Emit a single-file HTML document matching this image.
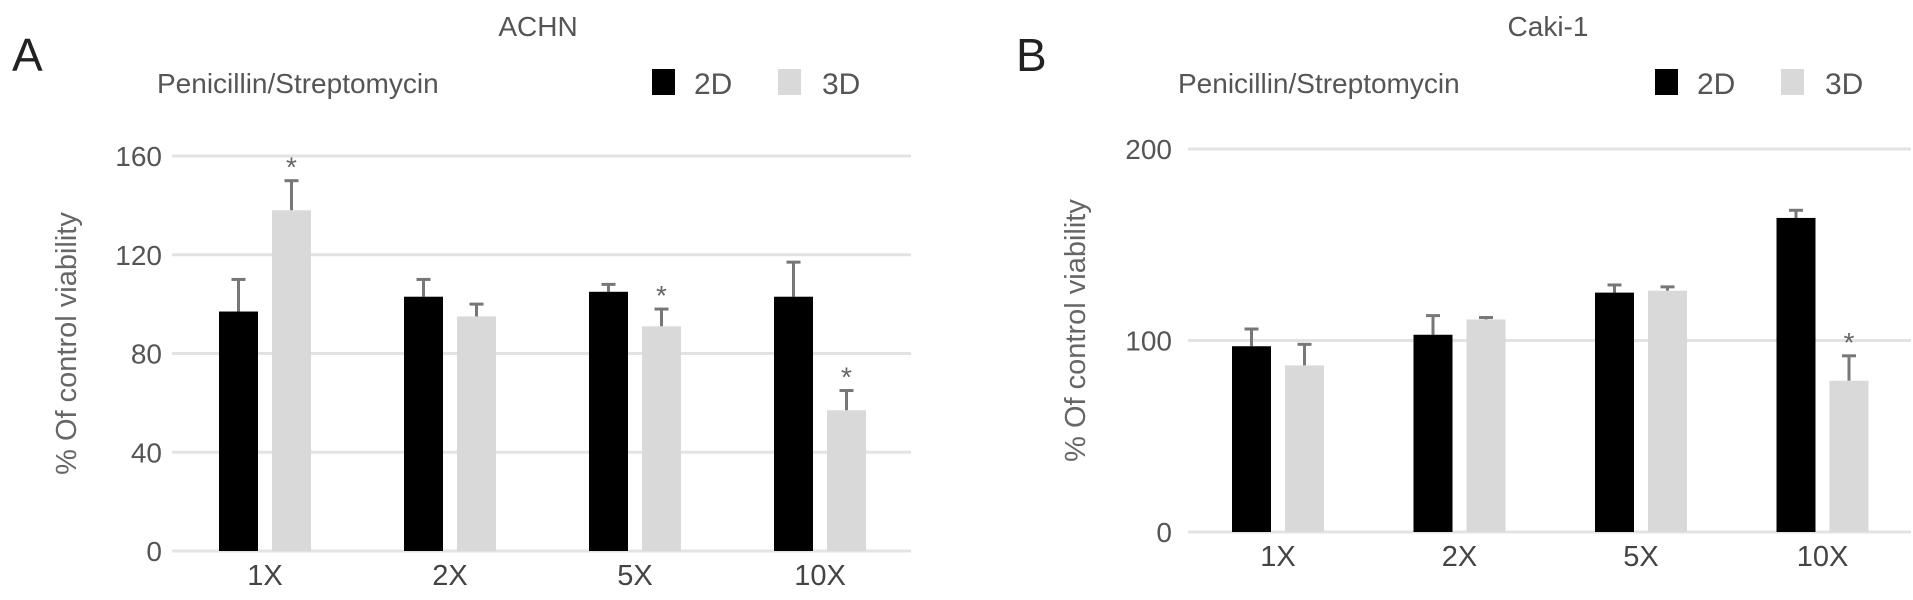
<!DOCTYPE html>
<html><head><meta charset="utf-8"><style>
html,body{margin:0;padding:0;background:#fff;}
svg{display:block;font-family:"Liberation Sans",sans-serif;}
</style></head><body>
<svg id="c" width="1913" height="600" viewBox="0 0 1913 600"></svg>
<script>
const categories = ["1X","2X","5X","10X"];
const achn2D = [97,103,105,103];
const achn2DErr = [110,110,108,117];
const achn3D = [138,95,91,57];
const achn3DErr = [150,100,98,65];
const achnStar = [true,false,true,true];
const achnTicks = [0,40,80,120,160];
const caki2D = [97,103,125,164];
const caki2DErr = [106,113,129,168];
const caki3D = [87,111,126,79];
const caki3DErr = [98,112,128,92];
const cakiStar = [false,false,false,true];
const cakiTicks = [0,100,200];

const NS="http://www.w3.org/2000/svg";
const svg=document.getElementById('c');
function mk(tag,attrs,parent){const e=document.createElementNS(NS,tag);for(const k in attrs)e.setAttribute(k,attrs[k]);(parent||svg).appendChild(e);return e;}
function txt(s,attrs,parent){const e=mk('text',attrs,parent);e.textContent=s;return e;}

function panel(o){
  const g=mk('g',{});
  
  
  const y=v=>o.y0+(o.y1-o.y0)*(v-o.vmin)/(o.vmax-o.vmin);
  let t=txt(o.letter,{x:o.letterX,y:71,'font-size':46,fill:'#222'},g);
  
  t=txt(o.title,{x:o.titleX,y:36,'font-size':28,fill:'#555','text-anchor':'middle'},g);
  
  t=txt('Penicillin/Streptomycin',{x:o.subX,y:93,'font-size':28,fill:'#555'},g);
  
  let r=mk('rect',{x:o.legX,y:69,width:23,height:26,fill:'#000'},g);
  
  t=txt('2D',{x:o.legX+42,y:94,'font-size':30,fill:'#555'},g);
  
  r=mk('rect',{x:o.legX+126,y:69,width:23,height:26,fill:'#d9d9d9'},g);
  
  t=txt('3D',{x:o.legX+170,y:94,'font-size':30,fill:'#555'},g);
  
  o.ticks.forEach(v=>{
    const l=mk('line',{x1:o.gx0,x2:o.gx1,y1:y(v),y2:y(v),stroke:'#e3e3e3','stroke-width':3},g);
    
    const tt=txt(String(v),{x:o.tickX,y:y(v)+10,'font-size':28,fill:'#555','text-anchor':'end'},g);
    
  });
  t=txt('% Of control viability',{x:0,y:0,'font-size':29,fill:'#666','text-anchor':'middle',transform:`translate(${o.ylabX},${(o.y0+o.y1)/2-10}) rotate(-90)`},g);
  
  const bw=39, gap=14;
  categories.forEach((c,i)=>{
    const cx=o.cx0+i*o.step;
    const bars=[[o.s2[i],o.e2[i],'#000',cx-gap/2-bw,'bar-2d-'+c],[o.s3[i],o.e3[i],'#d9d9d9',cx+gap/2,'bar-3d-'+c]];
    bars.forEach(b=>{
      const bx=b[3];
      const e=mk('line',{x1:bx+bw/2,x2:bx+bw/2,y1:y(b[0]),y2:y(b[1]),stroke:'#777','stroke-width':3},g);
      
      const ec=mk('line',{x1:bx+bw/2-7,x2:bx+bw/2+7,y1:y(b[1]),y2:y(b[1]),stroke:'#777','stroke-width':3},g);
      
      const rr=mk('rect',{x:bx,y:y(b[0]),width:bw,height:y(0)-y(b[0]),fill:b[2]},g);
      
    });
    if(o.star[i]){
      const st=txt('*',{x:cx+gap/2+bw/2,y:y(o.e3[i])-4,'font-size':28,fill:'#666','text-anchor':'middle'},g);
      
    }
    const xl=txt(c,{x:cx,y:o.y0+34,'font-size':29,fill:'#444','text-anchor':'middle'},g);
    
  });
}
panel({name:'panel-a-achn',letter:'A',letterX:12,title:'ACHN',titleX:538,subX:157,legX:652,
  y0:551,y1:156,vmin:0,vmax:160,ticks:achnTicks,gx0:172,gx1:911,tickX:162,ylabX:76,
  cx0:265,step:185,s2:achn2D,e2:achn2DErr,s3:achn3D,e3:achn3DErr,star:achnStar});
panel({name:'panel-b-caki1',letter:'B',letterX:1016,title:'Caki-1',titleX:1548,subX:1178,legX:1655,
  y0:532,y1:149,vmin:0,vmax:200,ticks:cakiTicks,gx0:1188,gx1:1911,tickX:1172,ylabX:1085,
  cx0:1278,step:181.5,s2:caki2D,e2:caki2DErr,s3:caki3D,e3:caki3DErr,star:cakiStar});
</script>
</body></html>
